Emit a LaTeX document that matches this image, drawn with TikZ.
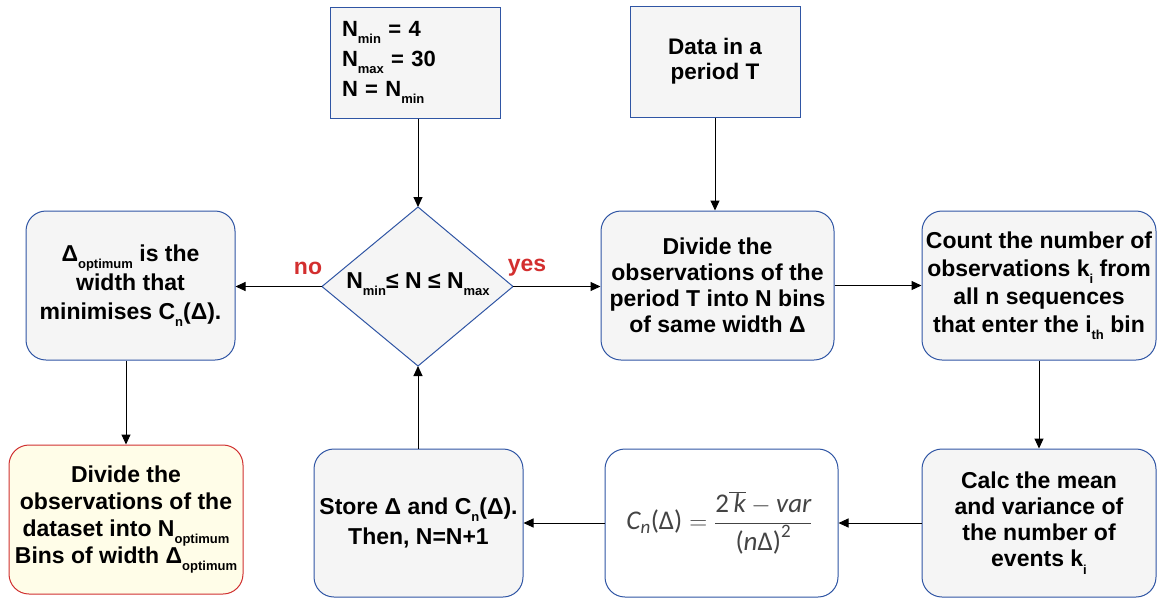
\documentclass[tikz,border=0pt]{standalone}
\usepackage{fontspec}
\setmainfont{Liberation Sans}
\newfontfamily\formfont{Carlito}
\usetikzlibrary{arrows.meta}
\definecolor{bordblue}{HTML}{2F55A4}
\definecolor{boxgray}{HTML}{F5F5F5}
\definecolor{noyes}{HTML}{D32F2F}
\definecolor{finfill}{HTML}{FFFDE8}
\definecolor{finred}{HTML}{D03030}
\definecolor{formgray}{HTML}{444444}
\newcommand{\lowsub}[1]{\raisebox{-0.32em}{\fontsize{13}{13}\selectfont #1}}
\newcommand{\fit}[1]{\hbox{\formfont\itshape #1}}
\newcommand{\fup}[1]{\hbox{\formfont #1}}
\tikzset{
  box/.style={draw=bordblue, fill=boxgray, line width=1pt, rounded corners=20pt,
    align=center, inner sep=2pt, font=\bfseries\fontsize{23}{26}\selectfont},
  sqbox/.style={draw=bordblue, fill=boxgray, line width=1pt, inner sep=2pt,
    font=\bfseries\fontsize{22}{30}\selectfont},
  arr/.style={-{Triangle[length=10pt,width=9pt]}, line width=1pt},
  lbl/.style={text=noyes, font=\bfseries\fontsize{23}{24}\selectfont},
}
\begin{document}
\begin{tikzpicture}[x=1pt,y=-1pt]
\useasboundingbox (0,0) rectangle (1159,603);

% top boxes
\node[sqbox, minimum width=170pt, minimum height=111pt, align=left, text width=146pt] (init) at (415,62.5)
  {N\lowsub{min} = 4\\N\lowsub{max} = 30\\N = N\lowsub{min}};
\node[sqbox, minimum width=170pt, minimum height=111pt, align=center, font=\bfseries\fontsize{22.5}{25}\selectfont] (data) at (715,61.5)
  {Data in a\\period T};

% diamond
\coordinate (dc) at (418,286.5);
\coordinate (dtop) at (418,207);
\coordinate (dbot) at (418,366);
\coordinate (dleft) at (322,286.5);
\coordinate (dright) at (513,286.5);
\draw[draw=bordblue, fill=boxgray, line width=1pt] (dtop) -- (dright) -- (dbot) -- (dleft) -- cycle;
\node[font=\bfseries\fontsize{23}{24}\selectfont, inner sep=0pt] (cond) at (418,284)
  {N\lowsub{min}≤ N ≤ N\lowsub{max}};

% row 2
\node[box, minimum width=233pt, minimum height=149pt] (divide) at (717.5,285.5)
  {Divide the\\observations of the\\period T into N bins\\of same width Δ};
\node[box, minimum width=234pt, minimum height=149pt, font=\bfseries\fontsize{23}{28}\selectfont] (count) at (1039,285.5)
  {Count the number of\\observations k\lowsub{i} from\\all n sequences\\that enter the i\lowsub{th} bin};
\node[box, minimum width=209pt, minimum height=149pt, font=\bfseries\fontsize{23}{29}\selectfont] (opt) at (130.5,285.5)
  {Δ\lowsub{optimum} is the\\width that\\minimises C\lowsub{n}(Δ).};

% row 3
\node[box, minimum width=234pt, minimum height=148pt] (calc) at (1039,523)
  {Calc the mean\\and variance of\\the number of\\events k\lowsub{i}};
\node[box, fill=white, minimum width=233pt, minimum height=148pt, text=formgray, font=\fontsize{27}{28}\selectfont] (form) at (721.5,523)
  {\hspace*{-4pt}$\displaystyle \fit{C}_{\fit{\fontsize{19}{19}\selectfont n}}\fup{(Δ)} = \frac{\fup{2}\overline{\fit{\,k}} - \fit{var}}{\fup{(}\fit{n}\fup{Δ)}^{\fup{\fontsize{19}{19}\selectfont 2}}}$};
\node[box, minimum width=209pt, minimum height=148pt, font=\bfseries\fontsize{23}{30}\selectfont] (store) at (418.5,523)
  {Store Δ and C\lowsub{n}(Δ).\\Then, N=N+1};
\node[box, draw=finred, fill=finfill, minimum width=234pt, minimum height=149pt, font=\bfseries\fontsize{23}{27}\selectfont] (final) at (126,519.5)
  {Divide the\\observations of the\\dataset into N\lowsub{optimum}\\Bins of width Δ\lowsub{optimum}};

% connectors
\draw[arr] (init.south -| dtop) -- (dtop);
\draw[arr] (data.south) -- (data.south |- divide.north);
\draw[arr] (dright) -- (divide.west |- dright);
\draw[arr] (divide.east) -- (count.west);
\draw[arr] (count.south) -- (calc.north);
\draw[arr] (calc.west) -- (form.east);
\draw[arr] (form.west) -- (store.east);
\draw[arr] (store.north -| dbot) -- (dbot);
\draw[arr] (dleft) -- (opt.east |- dleft);
\draw[arr] (opt.south -| final.north) -- (final.north);

% labels
\node[lbl] (no) at (308,268) {no};
\node[lbl] (yes) at (527,268) {yes};
\end{tikzpicture}
\end{document}
